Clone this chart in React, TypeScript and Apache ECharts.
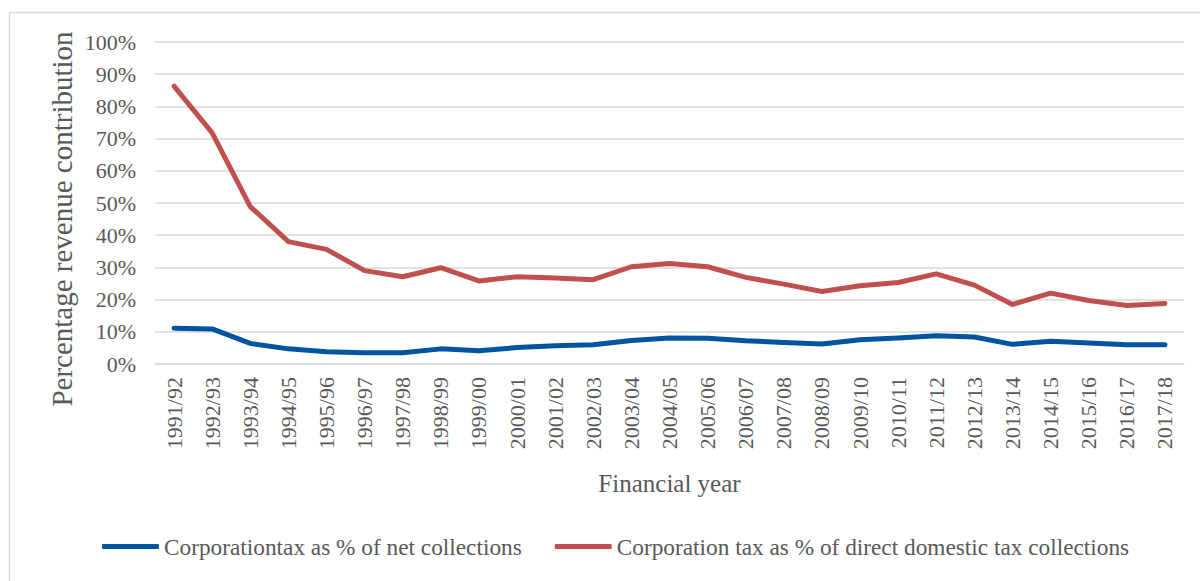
import React, { useEffect, useRef } from "react";
import * as echarts from "echarts";

const categories = [
  "1991/92", "1992/93", "1993/94", "1994/95", "1995/96", "1996/97", "1997/98",
  "1998/99", "1999/00", "2000/01", "2001/02", "2002/03", "2003/04", "2004/05",
  "2005/06", "2006/07", "2007/08", "2008/09", "2009/10", "2010/11", "2011/12",
  "2012/13", "2013/14", "2014/15", "2015/16", "2016/17", "2017/18",
];

const netCollections = [
  11.1, 10.9, 6.4, 4.7, 3.8, 3.5, 3.5, 4.7, 4.1, 5.1, 5.7, 6.0, 7.3, 8.1,
  8.0, 7.2, 6.7, 6.2, 7.5, 8.1, 8.8, 8.4, 6.1, 7.1, 6.5, 6.0, 6.0,
];

const directDomestic = [
  86.3, 71.8, 48.9, 38.0, 35.6, 29.0, 27.1, 29.9, 25.8, 27.1, 26.7, 26.2, 30.2, 31.2,
  30.2, 26.9, 24.8, 22.5, 24.3, 25.3, 28.0, 24.5, 18.5, 22.0, 19.7, 18.2, 18.8,
];

const seriesNames = [
  "Corporationtax as % of net collections",
  "Corporation tax as % of direct domestic tax collections",
];

const FONT = "'Liberation Serif', 'Times New Roman', serif";
const TEXT = "#595959";

export default function App() {
  const ref = useRef<HTMLDivElement>(null);
  useEffect(() => {
    if (!ref.current) return;
    const chart = echarts.init(ref.current, null, { renderer: "svg" });
    chart.setOption({
      animation: false,
      backgroundColor: "#ffffff",
      textStyle: { fontFamily: FONT, color: TEXT },
      grid: { left: 155, right: 16, top: 42, bottom: 217, containLabel: false },
      graphic: [
        {
          type: "rect",
          shape: { x: 9.5, y: 12.5, width: 1400, height: 800 },
          style: { fill: "none", stroke: "#d9d9d9", lineWidth: 1.5 },
          silent: true,
          z: -10,
        },
        {
          type: "text",
          x: 62,
          y: 219,
          rotation: Math.PI / 2,
          style: {
            text: "Percentage revenue contribution",
            fontFamily: FONT,
            fontSize: 29,
            fill: TEXT,
            align: "center",
            verticalAlign: "middle",
          },
        },
      ],
      legend: {
        bottom: 18,
        left: 97,
        itemWidth: 57,
        itemHeight: 5,
        itemGap: 33,
        icon: "roundRect",
        textStyle: { fontFamily: FONT, fontSize: 23.3, color: TEXT },
        data: seriesNames,
      },
      xAxis: {
        type: "category",
        data: categories,
        boundaryGap: true,
        name: "Financial year",
        nameLocation: "middle",
        nameGap: 107,
        nameTextStyle: { fontFamily: FONT, fontSize: 25, color: TEXT },
        axisLine: { show: true, lineStyle: { color: "#d9d9d9", width: 1.5 } },
        axisTick: { show: false },
        axisLabel: {
          rotate: 90,
          interval: 0,
          margin: 13,
          fontFamily: FONT,
          fontSize: 22,
          color: TEXT,
        },
      },
      yAxis: {
        type: "value",
        min: 0,
        max: 100,
        interval: 10,
        axisLine: { show: false },
        axisTick: { show: false },
        axisLabel: {
          formatter: "{value}%",
          margin: 19,
          fontFamily: FONT,
          fontSize: 22,
          color: TEXT,
        },
        splitLine: { lineStyle: { color: "#d9d9d9", width: 1.5 } },
      },
      series: [
        {
          name: seriesNames[0],
          type: "line",
          data: netCollections,
          showSymbol: false,
          symbol: "none",
          color: "#0054a0",
          lineStyle: { width: 5, color: "#0054a0", cap: "round", join: "round" },
        },
        {
          name: seriesNames[1],
          type: "line",
          data: directDomestic,
          showSymbol: false,
          symbol: "none",
          color: "#c0504d",
          lineStyle: { width: 5, color: "#c0504d", cap: "round", join: "round" },
        },
      ],
    });
    return () => chart.dispose();
  }, []);
  return (
    <div
      ref={ref}
      style={{ position: "absolute", left: 0, top: 0, width: 1200, height: 581 }}
    />
  );
}
